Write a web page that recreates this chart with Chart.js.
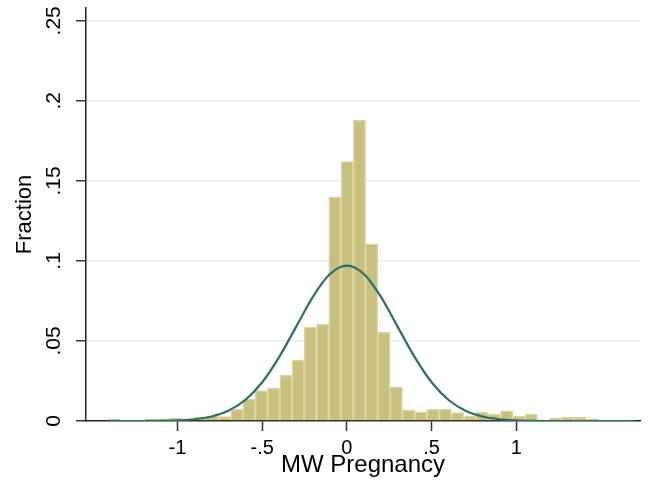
<!DOCTYPE html>
<html>
<head>
<meta charset="utf-8">
<script src="https://cdn.jsdelivr.net/npm/chart.js@4/dist/chart.umd.min.js"></script>
<style>
  html, body { margin: 0; padding: 0; background: #fff; }
  canvas { display: block; }
</style>
</head>
<body>
<canvas id="myChart" width="648" height="485"></canvas>
<script>
// histogram bins (centres) and fraction per bin
const binCenters = [-1.374, -1.302, -1.229, -1.157, -1.084, -1.012, -0.940, -0.867, -0.795, -0.722,
  -0.650, -0.578, -0.505, -0.433, -0.360, -0.288, -0.216, -0.143, -0.071, 0.002,
  0.074, 0.146, 0.219, 0.291, 0.364, 0.436, 0.508, 0.581, 0.653, 0.726,
  0.798, 0.870, 0.943, 1.015, 1.088, 1.160, 1.232, 1.305, 1.377, 1.450];
const fractions = [0.0013, 0, 0, 0.0013, 0.0013, 0.002, 0, 0.0025, 0.003, 0.0027,
  0.0073, 0.0136, 0.019, 0.0206, 0.0286, 0.038, 0.0586, 0.0606, 0.14, 0.162,
  0.188, 0.1106, 0.0554, 0.0214, 0.0069, 0.0058, 0.0075, 0.0075, 0.0052, 0.0031,
  0.0056, 0.0044, 0.0063, 0.0031, 0.0044, 0, 0.0018, 0.0025, 0.0025, 0.0013];

// normal curve
const curveX = [-1.4, -1.3, -1.2, -1.1, -1.0, -0.9, -0.8, -0.7, -0.6, -0.5, -0.4, -0.3, -0.2, -0.1, 0,
  0.1, 0.2, 0.3, 0.4, 0.5, 0.6, 0.7, 0.8, 0.9, 1.0, 1.1, 1.2, 1.3, 1.4, 1.5, 1.6, 1.7];
const curveY = [0, 0, 0, 0.0001, 0.0004, 0.0011, 0.0028, 0.0064, 0.0131, 0.0242, 0.0399, 0.0588, 0.0777, 0.0918, 0.0970,
  0.0918, 0.0777, 0.0588, 0.0399, 0.0242, 0.0131, 0.0064, 0.0028, 0.0011, 0.0004, 0.0001, 0, 0, 0, 0, 0, 0];

const xTickValues = [-1, -0.5, 0, 0.5, 1];
const xTickLabels = ['-1', '-.5', '0', '.5', '1'];
const yTickValues = [0, 0.05, 0.1, 0.15, 0.2, 0.25];
const yTickLabels = ['0', '.05', '.1', '.15', '.2', '.25'];

const barData = binCenters.map((x, i) => ({ x: x, y: fractions[i] }));
const lineData = curveX.map((x, i) => ({ x: x, y: curveY[i] }));

const config = {
  type: 'bar',
  data: {
    datasets: [
      {
        type: 'line',
        data: lineData,
        borderColor: '#2e6e69',
        borderWidth: 2.2,
        pointRadius: 0,
        cubicInterpolationMode: 'monotone',
        fill: false,
        order: 0
      },
      {
        type: 'bar',
        data: barData,
        backgroundColor: '#c8c07c',
        borderColor: '#dbd5a0',
        borderWidth: 1.5,
        borderSkipped: 'start',
        barPercentage: 1,
        categoryPercentage: 1,
        order: 1
      }
    ]
  },
  options: {
    responsive: false,
    animation: false,
    layout: { padding: { top: 8, right: 8, left: 0, bottom: 0 } },
    plugins: { legend: { display: false }, tooltip: { enabled: false } },
    scales: {
      x: {
        type: 'linear',
        min: -1.54,
        max: 1.73,
        offset: false,
        afterFit: s => { s.height = 64; s.paddingLeft = 0; s.paddingRight = 0; },
        afterBuildTicks: s => { s.ticks = xTickValues.map(v => ({ value: v })); },
        grid: { offset: false, drawOnChartArea: false, tickLength: 10, tickColor: '#333', tickWidth: 1.5 },
        border: { color: '#222', width: 1.5 },
        ticks: {
          font: { family: 'Liberation Sans', size: 20 },
          color: '#000',
          padding: 5,
          maxRotation: 0,
          autoSkip: false,
          callback: (v, i) => xTickLabels[i]
        },
        title: {
          display: true,
          text: 'MW Pregnancy',
          color: '#000',
          font: { family: 'Liberation Sans', size: 24 },
          padding: { top: 0, bottom: 5 }
        }
      },
      y: {
        min: 0,
        max: 0.258,
        afterFit: s => { s.width = 86; s.paddingTop = 0; s.paddingBottom = 0; },
        afterBuildTicks: s => { s.ticks = yTickValues.map(v => ({ value: v })); },
        grid: {
          color: c => (c.tick && c.tick.value === 0) ? 'rgba(0,0,0,0)' : '#e6eef0',
          lineWidth: 1.5,
          tickLength: 10,
          tickColor: '#333',
          tickWidth: 1.5
        },
        border: { color: '#222', width: 1.5 },
        ticks: {
          font: { family: 'Liberation Sans', size: 21 },
          color: '#000',
          minRotation: 90,
          maxRotation: 90,
          crossAlign: 'center',
          padding: 7,
          autoSkip: false,
          callback: (v, i) => yTickLabels[i]
        },
        title: {
          display: true,
          text: 'Fraction',
          color: '#000',
          font: { family: 'Liberation Sans', size: 22 },
          padding: { top: 12, bottom: 0 }
        }
      }
    }
  }
};

const myChart = new Chart(document.getElementById('myChart'), config);
</script>
</body>
</html>
